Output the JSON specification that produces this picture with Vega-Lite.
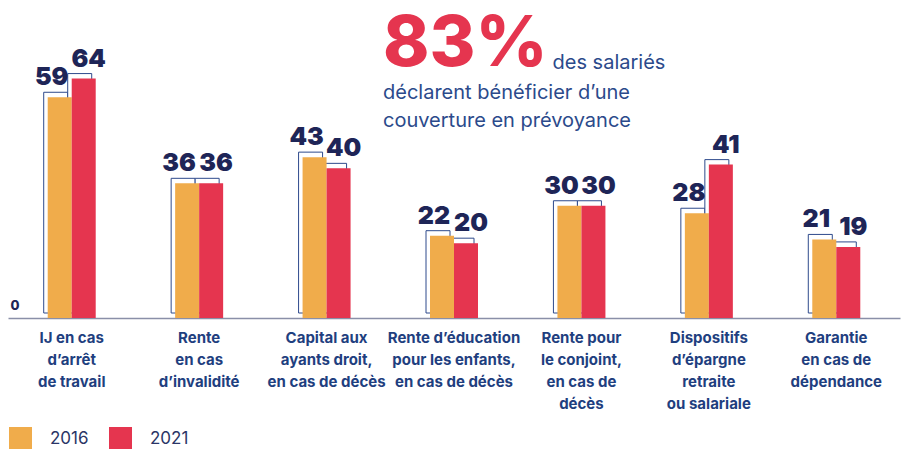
{
  "$schema": "https://vega.github.io/schema/vega-lite/v6.json",
  "width": 892,
  "height": 318,
  "padding": {"left": 8, "top": 0, "right": 2, "bottom": 0},
  "autosize": {"type": "pad"},
  "config": {"view": {"stroke": null}, "font": "Inter"},
  "title": {
    "text": "83%",
    "subtitle": ["déclarent bénéficier d’une", "couverture en prévoyance"],
    "anchor": "start",
    "frame": "group",
    "orient": "top",
    "dx": 375,
    "offset": -132,
    "font": "Inter",
    "fontSize": 70,
    "fontWeight": 800,
    "color": "#E5354F",
    "subtitleFont": "Inter",
    "subtitleFontSize": 20,
    "subtitleFontWeight": 400,
    "subtitleColor": "#2B4A8B",
    "subtitleLineHeight": 28,
    "subtitlePadding": 2
  },
  "data": {
    "values": [
      {"cat": "IJ en cas|d’arrêt|de travail", "year": "2016", "value": 59},
      {"cat": "IJ en cas|d’arrêt|de travail", "year": "2021", "value": 64},
      {"cat": "Rente|en cas|d’invalidité", "year": "2016", "value": 36},
      {"cat": "Rente|en cas|d’invalidité", "year": "2021", "value": 36},
      {"cat": "Capital aux|ayants droit,|en cas de décès", "year": "2016", "value": 43},
      {"cat": "Capital aux|ayants droit,|en cas de décès", "year": "2021", "value": 40},
      {"cat": "Rente d’éducation|pour les enfants,|en cas de décès", "year": "2016", "value": 22},
      {"cat": "Rente d’éducation|pour les enfants,|en cas de décès", "year": "2021", "value": 20},
      {"cat": "Rente pour|le conjoint,|en cas de|décès", "year": "2016", "value": 30},
      {"cat": "Rente pour|le conjoint,|en cas de|décès", "year": "2021", "value": 30},
      {"cat": "Dispositifs|d’épargne|retraite|ou salariale", "year": "2016", "value": 28},
      {"cat": "Dispositifs|d’épargne|retraite|ou salariale", "year": "2021", "value": 41},
      {"cat": "Garantie|en cas de|dépendance", "year": "2016", "value": 21},
      {"cat": "Garantie|en cas de|dépendance", "year": "2021", "value": 19}
    ]
  },
  "encoding": {
    "x": {
      "field": "cat",
      "type": "nominal",
      "sort": null,
      "scale": {"paddingInner": 0, "paddingOuter": 0},
      "axis": {
        "title": null,
        "labelAngle": 0,
        "labelExpr": "split(datum.value, '|')",
        "labelFont": "Inter",
        "labelFontSize": 15,
        "labelFontWeight": 700,
        "labelColor": "#1F3F7F",
        "labelLineHeight": 22,
        "labelPadding": 12,
        "labelBaseline": "top",
        "labelLimit": 0,
        "ticks": false,
        "domainColor": "#8A8FA8",
        "domainWidth": 1.5
      }
    },
    "y": {
      "field": "value",
      "type": "quantitative",
      "scale": {"domain": [0, 85], "nice": false},
      "axis": {
        "title": "des salariés",
        "titleAngle": 0,
        "titleAlign": "left",
        "titleBaseline": "alphabetic",
        "titleX": 544,
        "titleY": 68,
        "titleFont": "Inter",
        "titleFontSize": 20,
        "titleFontWeight": 400,
        "titleColor": "#2B4A8B",
        "values": [0],
        "domain": false,
        "ticks": false,
        "grid": false,
        "labelAlign": "left",
        "labelBaseline": "bottom",
        "labelPadding": -2,
        "labelOffset": -6,
        "labelFont": "Inter",
        "labelFontSize": 13,
        "labelFontWeight": 800,
        "labelColor": "#1E2557"
      }
    }
  },
  "layer": [
    {
      "transform": [{"filter": "datum.year == '2016'"}],
      "mark": {"type": "bar", "width": 24, "fill": "white", "stroke": "#2E4A8C", "strokeWidth": 1, "xOffset": -16, "yOffset": -5}
    },
    {
      "transform": [{"filter": "datum.year == '2021'"}],
      "mark": {"type": "bar", "width": 24, "fill": "white", "stroke": "#2E4A8C", "strokeWidth": 1, "xOffset": 8, "yOffset": -5}
    },
    {
      "transform": [{"filter": "datum.year == '2016'"}],
      "mark": {"type": "bar", "width": 24, "xOffset": -12},
      "encoding": {
        "color": {
          "field": "year",
          "type": "nominal",
          "scale": {"domain": ["2016", "2021"], "range": ["#F0AC4B", "#E5354F"]},
          "legend": {
            "title": null,
            "orient": "none",
            "legendX": 1,
            "legendY": 427,
            "direction": "horizontal",
            "symbolType": "square",
            "symbolSize": 529,
            "symbolStrokeWidth": 0,
            "symbolOpacity": 1,
            "labelFont": "Inter",
            "labelFontSize": 17,
            "labelColor": "#2A3566",
            "labelOffset": 18,
            "columnPadding": 20
          }
        }
      }
    },
    {
      "transform": [{"filter": "datum.year == '2021'"}],
      "mark": {"type": "bar", "width": 24, "xOffset": 12},
      "encoding": {
        "color": {"field": "year", "type": "nominal", "scale": {"domain": ["2016", "2021"], "range": ["#F0AC4B", "#E5354F"]}}
      }
    },
    {
      "transform": [{"filter": "datum.year == '2016'"}],
      "mark": {"type": "text", "baseline": "alphabetic", "dy": -12, "dx": -20, "font": "Inter", "fontSize": 25, "fontWeight": 900, "color": "#1E2557"},
      "encoding": {"text": {"field": "value", "type": "quantitative"}}
    },
    {
      "transform": [{"filter": "datum.year == '2021'"}],
      "mark": {"type": "text", "baseline": "alphabetic", "dy": -12, "dx": 17, "font": "Inter", "fontSize": 25, "fontWeight": 900, "color": "#1E2557"},
      "encoding": {"text": {"field": "value", "type": "quantitative"}}
    }
  ]
}
